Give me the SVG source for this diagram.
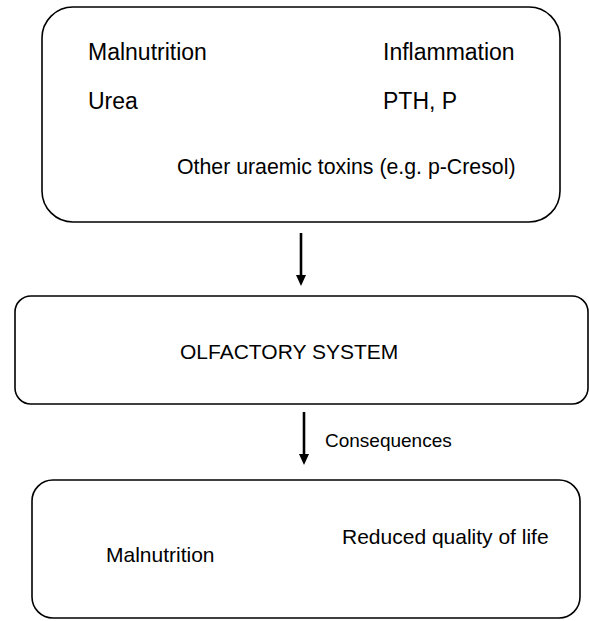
<svg xmlns="http://www.w3.org/2000/svg" width="589" height="621" viewBox="0 0 589 621">
<style>
.box{fill:#fff;stroke:#000;stroke-width:1.6}
.t{font-family:"Liberation Sans",Arial,Helvetica,sans-serif;fill:#000}
.conn{stroke:#000;stroke-width:2.6;fill:none}
.head{fill:#000}
</style>
<rect width="589" height="621" fill="#fff"/>
<g id="causes">
<rect class="box" x="42" y="7" width="518" height="215" rx="31" ry="31"/>
<text class="t" x="88" y="60" font-size="23">Malnutrition</text>
<text class="t" x="383" y="60" font-size="23">Inflammation</text>
<text class="t" x="88" y="109" font-size="23">Urea</text>
<text class="t" x="383" y="109" font-size="23">PTH, P</text>
<text class="t" x="177" y="174" font-size="21.3">Other uraemic toxins (e.g. p-Cresol)</text>
</g>
<g id="olfactory">
<rect class="box" x="15" y="296" width="573" height="108" rx="16" ry="16"/>
<text class="t" x="180" y="359" font-size="21">OLFACTORY SYSTEM</text>
</g>
<g id="consequences">
<rect class="box" x="32" y="480" width="548" height="138" rx="21" ry="21"/>
<text class="t" x="106" y="562" font-size="21">Malnutrition</text>
<text class="t" x="342" y="544" font-size="21">Reduced quality of life</text>
</g>
<g id="connectors">
<line class="conn" x1="301" y1="233" x2="301" y2="276"/>
<path class="head" d="M296,275 L306,275 L301,286 Z"/>
<line class="conn" x1="304" y1="412" x2="304" y2="455"/>
<path class="head" d="M299,454 L309,454 L304,465 Z"/>
<text class="t" x="325" y="447" font-size="19">Consequences</text>
</g>
</svg>
